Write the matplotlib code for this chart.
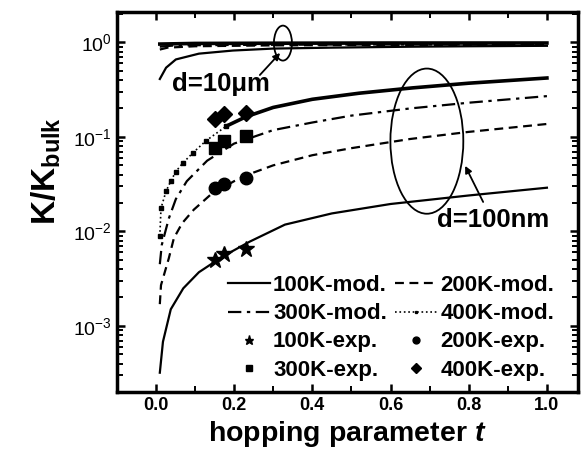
import matplotlib
matplotlib.use('Agg')
import matplotlib.pyplot as plt
from matplotlib.patches import Ellipse

plt.rcParams['font.family'] = 'Liberation Sans'
plt.rcParams['font.weight'] = 'bold'
plt.rcParams['mathtext.fontset'] = 'custom'
plt.rcParams['mathtext.rm'] = 'Liberation Sans:weight=normal'
plt.rcParams['mathtext.it'] = 'Liberation Sans:italic:bold'
plt.rcParams['mathtext.bf'] = 'Liberation Sans:bold'
plt.rcParams['xtick.direction'] = 'in'
plt.rcParams['ytick.direction'] = 'in'

# d = 100 nm model curves
t100_100nm = [0.01, 0.018, 0.038, 0.07, 0.11, 0.17, 0.24, 0.33, 0.45, 0.6, 0.8, 1.0]
k100_100nm = [0.00032, 0.00068, 0.0015, 0.0025, 0.0037, 0.0054, 0.0078, 0.0118, 0.0155, 0.0195, 0.024, 0.029]
t200_100nm = [0.01, 0.013, 0.033, 0.046, 0.067, 0.097, 0.14, 0.2, 0.25, 0.3, 0.4, 0.5, 0.65, 0.8, 1.0]
k200_100nm = [0.0017, 0.0027, 0.0052, 0.0085, 0.0122, 0.017, 0.0245, 0.034, 0.042, 0.05, 0.064, 0.076, 0.095, 0.113, 0.137]
t300_100nm = [0.01, 0.015, 0.033, 0.051, 0.079, 0.131, 0.2, 0.3, 0.4, 0.5, 0.65, 0.8, 1.0]
k300_100nm = [0.0045, 0.0072, 0.0137, 0.022, 0.034, 0.056, 0.085, 0.118, 0.142, 0.168, 0.2, 0.23, 0.27]
t400_100nm = [0.01, 0.013, 0.026, 0.038, 0.051, 0.069, 0.095, 0.128, 0.18, 0.23, 0.3, 0.4, 0.52, 0.656, 0.8, 1.0]
k400_100nm = [0.0089, 0.0176, 0.0267, 0.034, 0.043, 0.053, 0.068, 0.091, 0.13, 0.163, 0.205, 0.25, 0.29, 0.33, 0.37, 0.42]

# d = 10 um model curves
t100_10um = [0.01, 0.026, 0.051, 0.11, 0.197, 0.3, 0.45, 0.65, 0.8, 1.0]
k100_10um = [0.41, 0.54, 0.66, 0.76, 0.82, 0.86, 0.88, 0.9, 0.91, 0.92]
t200_10um = [0.01, 0.03, 0.1, 0.3, 0.6, 1.0]
k200_10um = [0.84, 0.88, 0.91, 0.93, 0.94, 0.94]
t300_10um = [0.01, 0.05, 0.2, 0.5, 1.0]
k300_10um = [0.9, 0.93, 0.94, 0.95, 0.95]
t400_10um = [0.01, 0.1, 0.3, 0.6, 1.0]
k400_10um = [0.96, 0.975, 0.98, 0.985, 0.985]

# experiments
t_exp = [0.15, 0.175, 0.23]
k100_exp = [0.005, 0.0057, 0.0065]
k200_exp = [0.029, 0.032, 0.037]
k300_exp = [0.076, 0.091, 0.102]
k400_exp = [0.156, 0.176, 0.18]

fig = plt.figure(figsize=(5.87, 4.59), dpi=100)
ax = fig.add_axes([0.199, 0.146, 0.786, 0.828])

s100 = dict(c='k', ls='-', lw=1.6)
s200 = dict(c='k', ls=(0, (4, 2.5)), lw=1.6)
s300 = dict(c='k', ls=(0, (6, 2.5, 1.5, 2.5)), lw=1.6)
s400 = dict(c='k', ls=':', lw=1.2, marker='s', ms=2.5)

l1, = ax.plot(t100_100nm, k100_100nm, **s100)
l2, = ax.plot(t200_100nm, k200_100nm, **s200)
l3, = ax.plot(t300_100nm, k300_100nm, **s300)
ax.plot(t400_100nm[:9], k400_100nm[:9], **s400)
ax.plot(t400_100nm[8:], k400_100nm[8:], c='k', lw=2.6)
l4, = ax.plot([], [], **s400)

ax.plot(t100_10um, k100_10um, **s100)
ax.plot(t200_10um, k200_10um, **s200)
ax.plot(t300_10um, k300_10um, **s300)
ax.plot(t400_10um, k400_10um, c='k', lw=2.6)

m1, = ax.plot(t_exp, k100_exp, '*', c='k', ms=12, ls='none')
m2, = ax.plot(t_exp, k200_exp, 'o', c='k', ms=9, ls='none')
m3, = ax.plot(t_exp, k300_exp, 's', c='k', ms=8.5, ls='none')
m4, = ax.plot(t_exp, k400_exp, 'D', c='k', ms=8.5, ls='none')

ax.set_yscale('log')
ax.set_xlim(-0.1, 1.08)
ax.set_ylim(2.0e-4, 2.1)
ax.set_xticks([0.0, 0.2, 0.4, 0.6, 0.8, 1.0])
ax.set_xticks([0.1, 0.3, 0.5, 0.7, 0.9], minor=True)
ax.set_xticklabels(['0.0', '0.2', '0.4', '0.6', '0.8', '1.0'], fontsize=13, fontweight='bold')
ax.set_yticks([1e-3, 1e-2, 1e-1, 1e0])
ax.set_yticklabels([r'$10^{-3}$', r'$10^{-2}$', r'$10^{-1}$', r'$10^{0}$'], fontsize=14)
ax.tick_params(which='both', top=True, right=True)
ax.tick_params(which='major', length=6, width=1.8)
ax.tick_params(which='minor', length=4, width=1.4)
for sp in ax.spines.values():
    sp.set_linewidth(2.5)

ax.set_xlabel(r'hopping parameter $\mathit{t}$', fontsize=20.5, fontweight='bold')
ax.set_ylabel(r'K/K$_{\mathbf{bulk}}$', fontsize=24, fontweight='bold')
ax.yaxis.set_label_coords(-0.116, 0.58)

# annotations
ax.add_patch(Ellipse((0.36, 0.918), 0.039, 0.092, transform=ax.transAxes,
                     fill=False, ec='k', lw=1.3))
ax.add_patch(Ellipse((0.672, 0.66), 0.158, 0.382, transform=ax.transAxes,
                     fill=False, ec='k', lw=1.3))
ax.text(0.225, 0.81, 'd=10\u03bcm', transform=ax.transAxes, fontsize=18.5,
        fontweight='bold', ha='center', va='center')
ax.text(0.816, 0.453, 'd=100nm', transform=ax.transAxes, fontsize=18.5,
        fontweight='bold', ha='center', va='center')
arrow = dict(arrowstyle='-|>', color='k', lw=1.3, shrinkA=0, shrinkB=0,
             mutation_scale=10)
ax.annotate('', xy=(0.354, 0.892), xytext=(0.31, 0.834),
            xycoords='axes fraction', textcoords='axes fraction', arrowprops=arrow)
ax.annotate('', xy=(0.755, 0.595), xytext=(0.794, 0.5),
            xycoords='axes fraction', textcoords='axes fraction', arrowprops=arrow)

handles = [l1, l3, m1, m3, l2, l4, m2, m4]
labels = ['100K-mod.', '300K-mod.', '100K-exp.', '300K-exp.',
          '200K-mod.', '400K-mod.', '200K-exp.', '400K-exp.']
ax.legend(handles, labels, ncol=2, frameon=False, loc='lower left',
          bbox_to_anchor=(0.24, 0.03), fontsize=16, handlelength=1.9,
          handletextpad=0.15, columnspacing=0.35, labelspacing=0.32,
          markerscale=0.55, borderaxespad=0.0, borderpad=0.0, numpoints=1)

plt.savefig('out.png', dpi=100)
